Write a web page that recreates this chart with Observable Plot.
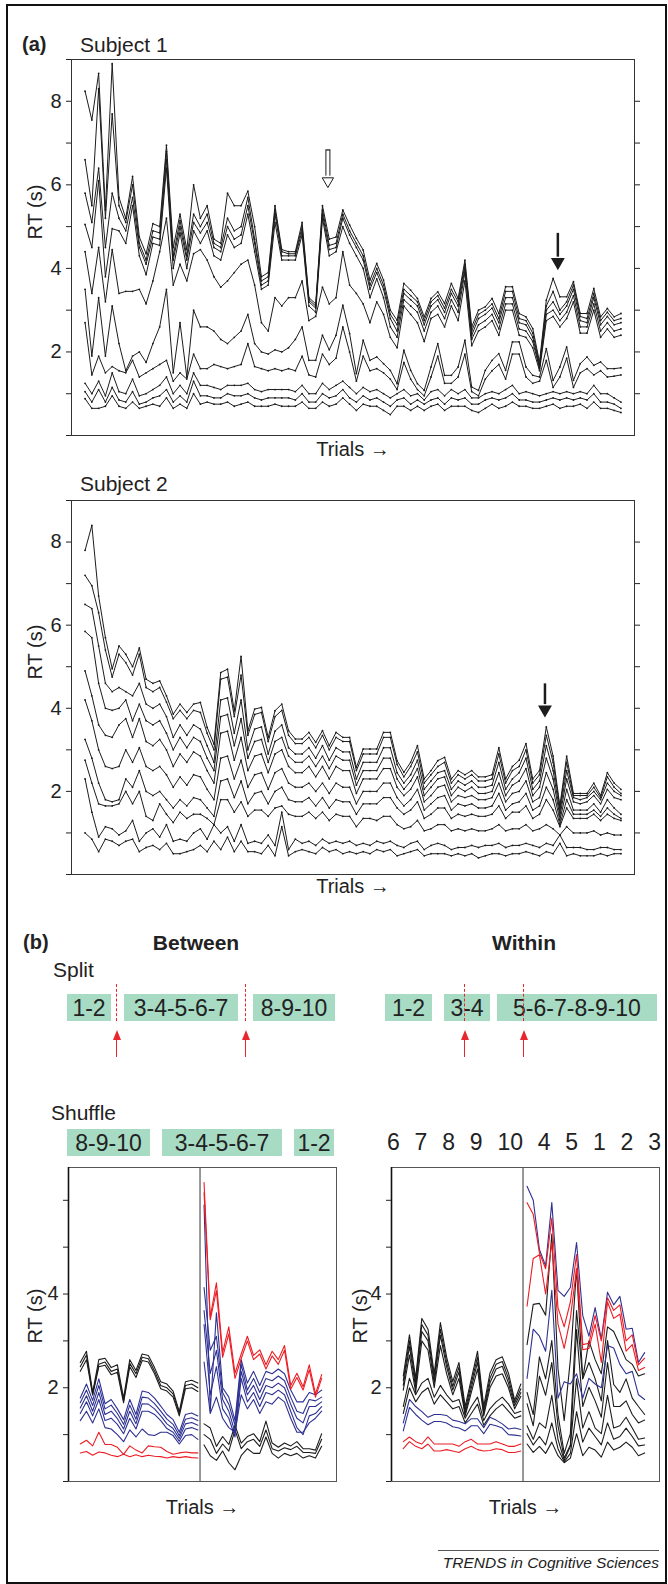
<!DOCTYPE html>
<html>
<head>
<meta charset="utf-8">
<script src="https://cdn.jsdelivr.net/npm/d3@7"></script>
<script src="https://cdn.jsdelivr.net/npm/@observablehq/plot@0.6"></script>
<style>
  body { margin: 0; background: #fff; }
  #page { position: relative; width: 668px; height: 1584px; overflow: hidden; background: #fff;
          font-family: "Liberation Sans", Arial, Helvetica, sans-serif; color: #222; }
  .abs { position: absolute; white-space: nowrap; }
  .box { position: absolute; background: #a7dbc4; height: 27px; line-height: 28px; text-align: center; font-size: 23px; color: #222; }
  .dash { position: absolute; width: 0; border-left: 1.5px dashed #e8262d; }
  .shaft { position: absolute; width: 0; border-left: 1.5px solid #e8262d; }
  .head { position: absolute; width: 0; height: 0; border-left: 4px solid transparent; border-right: 4px solid transparent; border-bottom: 10px solid #e8262d; }
  #border { position: absolute; left: 6px; top: 4px; width: 661px; height: 1580px; border: 2px solid #111; box-sizing: border-box; pointer-events: none; }
</style>
</head>
<body>
<div id="page"></div>
<script>
// ---------------- DATA ----------------
const trials = d3.range(80);

// Subject 1: ten RT curves (bottom to top), 80 trials each
const subject1Lines = [
  [0.88,0.65,0.65,0.7,0.95,0.7,0.65,0.8,0.65,0.7,0.75,0.7,0.9,0.65,0.75,0.65,1.0,0.75,0.8,0.75,0.75,0.8,0.7,0.75,0.8,0.7,0.7,0.7,0.75,0.7,0.7,0.7,0.8,0.65,0.65,0.8,0.7,0.75,0.9,0.75,0.6,0.75,0.7,0.7,0.6,0.5,0.7,0.7,0.6,0.7,0.6,0.7,0.75,0.6,0.7,0.7,0.7,0.6,0.55,0.65,0.75,0.65,0.7,0.8,0.7,0.7,0.65,0.65,0.7,0.75,0.65,0.7,0.7,0.75,0.65,0.8,0.65,0.65,0.6,0.55],
  [1.05,0.8,1.1,0.8,1.15,0.85,0.8,1.05,0.75,0.8,0.9,0.95,1.1,0.8,0.95,0.8,1.3,0.95,0.95,0.9,0.9,1.0,0.95,0.95,1.0,0.9,0.85,0.9,0.9,0.9,0.9,0.85,1.0,0.8,0.8,1.0,0.9,0.95,1.1,0.9,0.8,0.95,0.85,0.9,0.8,0.7,0.85,0.9,0.75,0.85,0.75,0.85,0.9,0.75,0.9,0.85,0.9,0.75,0.75,0.85,0.9,0.85,0.9,1.0,0.85,0.85,0.8,0.8,0.85,0.9,0.85,0.9,0.85,0.9,0.85,1.0,0.8,0.8,0.75,0.65],
  [1.25,1.0,1.3,0.95,1.5,1.05,1.0,1.35,0.95,1.0,1.1,1.2,1.4,1.0,1.2,1.0,1.5,1.2,1.2,1.15,1.1,1.2,1.2,1.2,1.25,1.1,1.05,1.1,1.1,1.1,1.1,1.05,1.2,1.0,1.0,1.25,1.1,1.2,1.3,1.15,1.0,1.15,1.05,1.1,1.0,0.9,1.0,1.1,0.95,1.0,0.85,1.05,1.1,0.95,1.1,1.0,1.1,0.9,0.9,1.0,1.05,1.0,1.1,1.2,1.0,1.05,1.0,0.95,1.0,1.05,1.0,1.05,1.0,1.05,1.0,1.2,1.0,1.0,0.9,0.8],
  [2.7,1.45,1.9,1.5,1.65,1.55,1.5,1.8,1.4,1.5,1.6,1.7,1.8,1.3,1.5,1.35,1.95,1.6,1.6,1.7,1.65,1.6,1.65,1.7,2.2,1.65,1.6,1.55,1.6,1.55,1.6,1.55,1.9,1.45,1.4,1.95,1.7,1.85,2.6,2.0,1.3,1.9,1.55,1.6,1.5,1.35,1.1,1.75,1.35,1.1,0.95,1.4,1.9,1.25,1.25,1.4,1.95,1.05,0.95,1.35,1.55,1.7,1.35,1.95,1.95,1.4,1.25,1.3,1.8,1.15,1.4,1.85,1.15,1.5,1.6,1.45,1.55,1.4,1.42,1.45],
  [3.5,1.9,3.3,1.9,3.1,2.2,1.55,1.9,2.0,1.75,2.2,2.6,3.5,1.5,2.7,1.4,3.0,2.6,2.6,2.5,2.3,2.2,2.35,2.5,2.9,2.2,2.0,1.95,2.05,2.0,2.1,2.3,2.6,1.8,1.8,2.4,2.05,2.4,3.12,2.44,1.48,2.28,1.8,1.88,1.72,1.56,1.24,2.04,1.56,1.24,1.08,1.64,2.2,1.44,1.44,1.64,2.28,1.16,1.08,1.56,1.8,1.96,1.56,2.24,2.24,1.64,1.44,1.4,2.08,1.32,1.64,2.12,1.32,1.72,1.88,1.68,1.76,1.6,1.6,1.62],
  [4.4,3.4,4.5,3.2,4.45,3.4,3.45,3.45,3.5,3.15,3.7,4.4,5.2,3.6,4.1,3.7,4.35,4.45,4.2,3.8,3.55,3.7,3.9,4.1,4.2,3.6,2.7,2.5,3.3,3.1,3.3,3.3,3.7,2.75,2.85,3.55,3.15,3.3,4.4,3.6,3.4,3.15,2.7,3.2,2.9,2.35,2.1,3.1,2.9,2.7,2.25,2.8,2.9,2.6,3.1,2.75,3.7,2.15,2.5,2.6,2.75,2.4,3.0,3.0,2.4,2.35,2.1,1.55,2.75,2.85,2.6,2.8,3.2,2.45,2.45,3.0,2.35,2.55,2.35,2.4],
  [5.05,4.5,6.1,3.8,4.95,4.9,4.6,5.5,4.3,3.85,4.6,4.55,6.4,4.0,4.85,4.0,4.9,4.6,4.9,4.3,4.2,4.8,4.5,4.6,5.3,4.4,3.5,3.6,5.1,4.2,4.2,4.2,4.8,3.1,2.95,5.2,4.3,4.4,5.0,4.6,4.3,4.0,3.3,3.75,3.3,2.6,2.35,3.25,3.1,2.95,2.5,2.95,3.1,2.8,3.25,2.95,3.9,2.3,2.65,2.75,2.9,2.55,3.15,3.15,2.55,2.5,2.25,1.6,2.9,3.0,2.75,2.95,3.35,2.6,2.6,3.15,2.5,2.7,2.5,2.55],
  [5.8,5.1,6.4,4.5,5.8,5.2,4.9,5.7,4.5,4.1,4.75,4.7,6.6,4.2,5.0,4.2,5.1,4.85,5.1,4.5,4.4,5.0,4.7,4.8,5.5,4.6,3.6,3.7,5.3,4.3,4.3,4.3,4.9,3.2,3.05,5.3,4.45,4.5,5.2,4.8,4.5,4.2,3.5,3.9,3.5,2.8,2.5,3.4,3.25,3.1,2.65,3.1,3.25,2.95,3.4,3.1,4.0,2.4,2.8,2.9,3.05,2.7,3.3,3.3,2.7,2.65,2.35,1.65,3.0,3.2,2.9,3.1,3.5,2.75,2.7,3.3,2.65,2.85,2.65,2.7],
  [6.6,5.5,8.3,5.2,7.7,5.5,5.1,6.0,4.6,4.2,4.9,4.85,6.8,4.3,5.15,4.3,5.3,5.0,5.3,4.6,4.5,5.2,4.9,5.0,5.7,4.7,3.7,3.8,5.4,4.4,4.35,4.35,5.0,3.25,3.1,5.4,4.55,4.6,5.3,4.9,4.6,4.3,3.6,4.0,3.6,2.9,2.65,3.5,3.35,3.2,2.75,3.2,3.35,3.05,3.5,3.2,4.1,2.5,2.9,3.0,3.15,2.8,3.45,3.45,2.8,2.75,2.45,1.7,3.1,3.45,3.0,3.2,3.6,2.85,2.8,3.4,2.75,2.95,2.75,2.8],
  [8.24,7.55,8.67,5.4,8.9,5.7,5.2,6.2,4.75,4.35,5.07,5.0,6.95,4.5,5.3,4.45,6.0,5.2,5.5,4.7,4.6,5.8,5.5,5.5,5.85,5.0,3.8,3.9,5.5,4.45,4.4,4.4,5.1,3.3,3.15,5.5,4.7,4.75,5.4,5.04,4.72,4.44,3.72,4.12,3.72,3.0,2.76,3.64,3.48,3.28,2.84,3.28,3.44,3.16,3.64,3.28,4.2,2.6,3.0,3.08,3.28,2.92,3.56,3.56,2.92,2.84,2.56,1.76,3.24,3.76,3.32,3.32,3.68,2.92,2.92,3.52,2.84,3.04,2.84,2.92]
];

// Subject 2: ten RT curves (bottom to top), 80 trials each
const subject2Lines = [
  [1.0,0.85,0.55,0.85,0.8,0.7,0.8,0.85,0.55,0.65,0.7,0.6,0.75,0.5,0.5,0.55,0.6,0.7,0.55,0.8,0.6,0.9,0.55,0.8,0.55,0.55,0.5,0.7,0.45,1.15,0.45,0.55,0.6,0.55,0.5,0.65,0.55,0.6,0.5,0.55,0.5,0.55,0.5,0.6,0.55,0.6,0.45,0.5,0.55,0.6,0.45,0.5,0.5,0.5,0.45,0.5,0.45,0.5,0.4,0.45,0.5,0.5,0.45,0.5,0.5,0.55,0.5,0.45,0.55,0.5,0.75,0.45,0.5,0.45,0.45,0.45,0.5,0.45,0.5,0.5],
  [2.3,1.5,0.9,1.15,1.1,0.95,1.05,1.3,0.8,1.0,1.1,0.9,1.2,0.8,0.85,0.8,1.0,1.1,0.85,1.2,1.0,1.15,0.8,1.2,0.75,0.8,0.75,0.95,0.7,1.5,0.6,0.85,0.75,0.8,0.7,0.85,0.75,0.8,0.75,0.8,0.7,0.75,0.7,0.8,0.75,0.8,0.7,0.65,0.75,0.8,0.6,0.7,0.75,0.7,0.6,0.65,0.65,0.7,0.65,0.7,0.7,0.75,0.65,0.7,0.7,0.75,0.7,0.65,0.75,0.7,0.95,0.65,0.65,0.65,0.6,0.6,0.65,0.65,0.6,0.6],
  [2.75,2.2,1.7,1.65,1.65,1.7,2.0,1.7,2.0,1.4,1.3,1.7,1.45,1.25,1.5,1.35,1.45,1.45,1.35,1.2,1.8,1.8,1.5,1.75,1.4,1.55,1.55,1.4,1.6,1.65,1.45,1.4,1.4,1.5,1.35,1.5,1.3,1.45,1.4,1.4,1.15,1.35,1.35,1.3,1.4,1.4,1.2,1.1,1.15,1.3,1.05,1.1,1.2,1.2,1.05,1.1,1.05,1.1,1.05,1.05,1.1,1.2,1.05,1.1,1.1,1.2,1.05,1.1,1.2,1.1,0.95,1.15,1.0,1.0,1.0,1.05,0.95,1.0,0.95,0.95],
  [3.25,2.8,2.2,1.8,1.75,1.8,2.3,2.1,2.5,2.0,1.9,2.0,1.8,1.6,1.8,1.65,1.85,1.8,1.6,1.4,2.25,2.3,1.85,2.25,1.7,1.95,2.0,1.7,2.0,2.1,1.8,1.75,1.75,1.85,1.65,1.85,1.6,1.8,1.75,1.75,1.45,1.7,1.7,1.7,1.85,1.85,1.6,1.45,1.55,1.75,1.35,1.45,1.6,1.6,1.35,1.45,1.4,1.45,1.4,1.4,1.45,1.65,1.35,1.5,1.5,1.65,1.35,1.45,1.8,1.55,1.15,1.6,1.35,1.35,1.35,1.45,1.3,1.45,1.35,1.3],
  [4.2,3.7,3.0,2.6,2.55,2.6,3.0,2.7,3.05,2.6,2.5,2.6,2.4,2.1,2.35,2.15,2.4,2.35,2.05,1.8,2.8,2.85,2.3,2.75,2.1,2.4,2.45,2.05,2.45,2.55,2.2,2.1,2.1,2.2,2.0,2.2,1.95,2.2,2.1,2.1,1.7,2.0,2.0,2.0,2.2,2.2,1.85,1.65,1.8,2.05,1.55,1.7,1.85,1.9,1.55,1.7,1.65,1.7,1.6,1.6,1.65,1.95,1.55,1.7,1.75,1.95,1.55,1.65,2.1,1.8,1.2,1.8,1.45,1.45,1.45,1.55,1.4,1.6,1.45,1.35],
  [4.9,4.3,3.6,3.35,3.3,3.6,3.75,3.3,3.75,3.2,3.1,3.25,3.0,2.6,2.9,2.7,2.95,2.85,2.5,2.2,3.4,3.45,2.75,3.3,2.5,2.85,2.9,2.45,2.9,3.0,2.6,2.45,2.45,2.6,2.35,2.6,2.3,2.6,2.5,2.5,1.95,2.3,2.3,2.3,2.55,2.55,2.1,1.9,2.05,2.35,1.75,1.9,2.1,2.15,1.75,1.9,1.85,1.9,1.8,1.8,1.85,2.2,1.75,1.95,2.0,2.25,1.75,1.85,2.45,2.05,1.3,2.05,1.55,1.55,1.55,1.7,1.5,1.8,1.6,1.45],
  [5.85,5.7,4.6,4.0,3.95,4.0,4.2,3.7,4.1,3.7,3.6,3.7,3.4,3.0,3.3,3.05,3.3,3.2,2.8,2.5,3.8,3.85,3.1,3.75,2.8,3.2,3.25,2.7,3.2,3.3,2.85,2.7,2.7,2.85,2.6,2.85,2.55,2.85,2.75,2.75,2.15,2.5,2.5,2.5,2.8,2.8,2.3,2.05,2.25,2.55,1.9,2.1,2.3,2.35,1.9,2.1,2.0,2.1,1.95,1.95,2.0,2.45,1.9,2.15,2.25,2.55,1.9,2.1,2.8,2.3,1.4,2.3,1.75,1.7,1.75,1.9,1.7,2.05,1.85,1.8],
  [6.5,6.4,5.5,4.6,4.4,4.5,4.4,4.3,4.6,4.1,4.0,4.1,3.8,3.3,3.6,3.35,3.6,3.5,3.1,2.7,4.2,4.25,3.4,4.2,3.0,3.5,3.55,2.9,3.45,3.6,3.05,2.9,2.9,3.05,2.8,3.1,2.75,3.05,2.95,2.95,2.3,2.7,2.7,2.7,3.05,3.05,2.45,2.2,2.4,2.75,2.05,2.25,2.45,2.5,2.05,2.25,2.15,2.25,2.1,2.1,2.15,2.7,2.05,2.3,2.45,2.8,2.05,2.25,3.1,2.5,1.5,2.5,1.85,1.8,1.85,2.0,1.8,2.2,2.0,1.9],
  [7.2,6.95,6.3,5.4,4.75,5.3,5.1,4.8,5.3,4.5,4.4,4.5,4.15,3.75,3.95,3.75,3.95,3.9,3.4,3.0,4.7,4.75,3.8,4.8,3.35,3.85,3.9,3.2,3.8,3.95,3.35,3.15,3.15,3.3,3.05,3.35,3.0,3.3,3.2,3.2,2.5,2.9,2.9,2.9,3.3,3.3,2.65,2.35,2.6,2.95,2.2,2.4,2.6,2.7,2.2,2.4,2.3,2.4,2.25,2.25,2.3,2.9,2.2,2.5,2.6,3.0,2.2,2.4,3.35,2.7,1.6,2.7,1.9,1.9,1.9,2.1,1.85,2.35,2.1,1.95],
  [7.8,8.4,6.7,5.7,4.95,5.5,5.3,5.0,5.45,4.7,4.6,4.66,4.3,3.86,4.1,3.9,4.1,4.14,3.54,3.14,4.86,4.94,3.94,5.25,3.46,3.98,4.02,3.3,3.94,4.1,3.46,3.26,3.26,3.42,3.18,3.46,3.1,3.42,3.3,3.3,2.58,3.02,3.02,3.02,3.42,3.42,2.74,2.46,2.7,3.1,2.3,2.5,2.74,2.82,2.3,2.5,2.4,2.5,2.35,2.35,2.4,3.05,2.3,2.6,2.75,3.15,2.3,2.5,3.55,2.85,1.65,2.85,1.95,1.95,1.95,2.2,1.9,2.45,2.2,2.05]
];

// Arrow annotations (trial position, RT where arrow starts, RT of the tip)
const subject1Arrows = [
  {trial: 35.8, from: 6.85, to: 5.92, open: true},
  {trial: 69.7, from: 4.85, to: 3.98, open: false}
];
const subject2Arrows = [
  {trial: 67.8, from: 4.6, to: 3.8, open: false}
];

// Panel (b) schematic labels
const splitBetween = ["1-2", "3-4-5-6-7", "8-9-10"];
const splitWithin = ["1-2", "3-4", "5-6-7-8-9-10"];
const shuffleBetween = ["8-9-10", "3-4-5-6-7", "1-2"];
const shuffleWithin = ["6", "7", "8", "9", "10", "4", "5", "1", "2", "3"];

// Panel (b) "Between": 20 trials before the split, 20 after
const betweenBeforeBlack = [
  [2.54,2.78,1.9,2.6,2.63,2.43,2.49,1.78,2.6,2.37,2.72,2.69,2.43,2.13,2.08,1.93,1.49,2.13,2.16,2.1],
  [2.45,2.7,1.87,2.5,2.55,2.35,2.4,1.72,2.52,2.3,2.65,2.62,2.36,2.05,2.0,1.87,1.45,2.05,2.08,2.0],
  [2.35,2.6,1.84,2.45,2.48,2.28,2.33,1.68,2.45,2.22,2.58,2.55,2.3,1.98,1.93,1.8,1.4,1.98,2.0,1.92]
];
const betweenBeforeBlue = [
  [1.78,2.08,1.73,2.19,1.66,1.75,1.55,1.32,1.75,1.43,1.93,1.9,1.78,1.61,1.43,1.32,1.05,1.43,1.46,1.4],
  [1.68,1.95,1.62,2.05,1.55,1.63,1.45,1.22,1.63,1.33,1.8,1.78,1.66,1.5,1.33,1.22,0.98,1.33,1.36,1.3],
  [1.57,1.83,1.5,1.9,1.43,1.5,1.34,1.12,1.5,1.23,1.66,1.65,1.55,1.4,1.23,1.13,0.92,1.23,1.26,1.2],
  [1.45,1.7,1.4,1.75,1.3,1.35,1.22,1.02,1.35,1.12,1.5,1.5,1.43,1.3,1.13,1.05,0.86,1.12,1.15,1.1],
  [1.3,1.5,1.25,1.55,1.15,1.12,1.0,0.85,1.1,0.95,1.12,1.0,0.98,1.05,1.05,0.98,0.8,0.98,1.0,0.9]
];
const betweenBeforeRed = [
  [0.8,0.88,0.76,1.05,0.79,0.79,0.73,0.58,0.76,0.67,0.61,0.76,0.74,0.73,0.64,0.58,0.61,0.63,0.61,0.61],
  [0.61,0.64,0.56,0.63,0.61,0.56,0.53,0.58,0.53,0.57,0.53,0.56,0.54,0.53,0.5,0.53,0.51,0.53,0.51,0.5]
];
const betweenAfterRed = [
  [6.38,3.51,4.24,2.75,3.3,2.31,2.72,3.1,2.69,2.81,2.49,2.78,2.6,2.9,2.05,2.31,2.02,2.49,1.87,2.28],
  [6.16,3.45,4.07,2.65,3.15,2.2,2.62,3.0,2.6,2.72,2.4,2.68,2.5,2.8,1.97,2.22,1.95,2.38,1.8,2.2]
];
const betweenAfterBlue = [
  [5.9,1.5,3.6,2.0,1.8,1.3,2.6,2.1,2.35,2.05,2.35,2.3,2.4,2.3,1.95,1.7,1.7,1.9,1.85,1.95],
  [4.14,2.8,3.1,1.9,1.65,1.2,2.5,1.95,2.2,1.9,2.2,2.15,2.25,2.15,1.8,1.5,1.45,1.75,1.72,1.8],
  [3.65,2.3,2.8,1.75,1.5,1.05,2.35,1.85,2.05,1.75,2.05,2.0,2.1,2.0,1.65,1.35,1.25,1.6,1.6,1.7],
  [3.35,1.85,2.45,1.55,1.35,0.95,2.2,1.7,1.9,1.6,1.9,1.85,1.95,1.85,1.5,1.15,1.0,1.4,1.45,1.6],
  [2.55,1.45,1.8,1.35,1.15,1.05,1.85,1.55,1.75,1.45,1.7,1.65,1.8,1.7,1.35,1.05,1.05,1.25,1.35,1.5]
];
const betweenAfterBlack = [
  [1.23,1.14,0.75,0.96,0.79,1.2,0.82,0.96,1.02,0.85,1.29,0.82,0.73,0.82,0.76,0.85,0.7,0.7,0.67,1.02],
  [1.0,0.9,0.6,0.8,0.65,1.1,0.7,0.85,0.9,0.75,1.1,0.7,0.65,0.72,0.68,0.75,0.62,0.62,0.6,0.9],
  [0.78,0.55,0.45,0.65,0.4,0.25,0.55,0.7,0.6,0.6,0.95,0.6,0.5,0.6,0.55,0.6,0.5,0.55,0.5,0.75]
];

// Panel (b) "Within"
const withinBeforeBlack = [
  [2.25,3.13,2.2,3.48,3.25,2.3,3.39,2.66,2.13,2.54,1.6,2.19,2.78,1.6,2.31,2.6,2.66,2.31,1.73,2.08],
  [2.15,3.0,2.1,3.35,3.12,2.2,3.25,2.55,2.03,2.44,1.52,2.1,2.66,1.52,2.2,2.5,2.56,2.2,1.68,1.98],
  [2.05,2.88,2.0,3.2,3.0,2.1,3.12,2.45,1.95,2.34,1.45,2.0,2.55,1.45,2.1,2.4,2.46,2.1,1.62,1.9],
  [1.95,2.7,1.9,3.0,2.8,2.0,2.9,2.3,1.85,2.2,1.4,1.9,2.4,1.4,2.0,2.25,2.3,2.0,1.55,1.82],
  [1.6,2.2,1.85,2.1,2.2,1.8,2.05,1.85,1.7,1.75,1.35,1.6,1.8,1.3,1.55,1.7,1.8,1.65,1.45,1.5],
  [1.45,2.0,1.7,1.9,2.0,1.65,1.85,1.7,1.55,1.6,1.25,1.45,1.65,1.2,1.4,1.55,1.65,1.5,1.35,1.4]
];
const withinBeforeBlue = [
  [1.25,1.75,1.6,1.49,1.37,1.43,1.43,1.41,1.31,1.28,1.23,1.34,1.34,1.15,1.37,1.31,1.23,1.12,1.14,1.11],
  [1.08,1.58,1.43,1.31,1.21,1.28,1.28,1.25,1.17,1.14,1.08,1.19,1.19,1.02,1.22,1.19,1.14,1.0,0.99,0.97]
];
const withinBeforeRed = [
  [0.85,0.95,0.85,0.8,0.95,0.8,0.8,0.8,0.8,0.75,0.85,0.9,0.8,0.8,0.8,0.85,0.8,0.75,0.75,0.8],
  [0.7,0.85,0.75,0.7,0.8,0.65,0.65,0.68,0.65,0.62,0.7,0.75,0.68,0.65,0.66,0.7,0.68,0.62,0.62,0.65]
];
const withinAfterBlue = [
  [6.3,6.0,4.95,4.6,5.95,4.08,3.95,4.14,5.1,3.54,3.1,3.71,3.04,4.04,3.77,3.95,3.25,3.27,2.54,2.75],
  [2.2,3.25,3.1,2.78,4.08,1.78,2.13,2.08,2.3,1.78,2.2,2.08,2.0,2.9,2.85,2.5,2.3,2.35,1.85,1.75]
];
const withinAfterRed = [
  [5.95,5.7,4.88,4.54,5.62,3.71,3.3,3.83,4.84,2.92,2.95,3.54,3.0,3.92,3.65,3.77,3.0,3.13,2.49,2.63],
  [3.74,4.76,4.84,4.0,5.1,3.36,2.84,3.48,4.54,2.81,2.84,3.36,2.54,3.83,3.48,3.57,2.78,2.92,2.37,2.43]
];
const withinAfterBlack = [
  [2.92,3.78,3.8,3.55,5.28,2.4,1.3,2.6,4.54,2.2,3.0,2.6,2.3,3.3,3.2,2.9,2.6,2.5,2.25,2.3],
  [1.9,1.43,2.66,2.19,3.01,1.43,0.6,1.02,3.65,2.19,2.54,2.19,1.72,3.01,2.07,1.9,2.19,1.78,1.6,1.43],
  [1.66,1.19,2.25,1.84,2.54,1.19,0.5,0.78,3.24,1.6,2.01,1.72,1.37,2.54,1.6,1.6,1.72,1.43,1.25,1.31],
  [1.19,0.9,1.25,1.14,1.84,0.9,0.45,0.75,2.19,1.14,1.49,1.14,1.02,1.84,1.14,1.19,1.37,1.14,0.9,0.93],
  [1.02,0.78,0.96,0.78,1.25,0.7,0.42,0.6,1.49,0.84,1.14,0.96,0.78,1.25,0.9,0.96,1.14,0.96,0.76,0.78],
  [0.8,0.62,0.75,0.6,0.84,0.55,0.4,0.5,1.02,0.55,0.73,0.67,0.52,0.84,0.67,0.73,0.84,0.73,0.55,0.61]
];

// ---------------- STYLE / LAYOUT ----------------
const FONT = '"Liberation Sans", Arial, Helvetica, sans-serif';
const INK = "#1c1c1c", BLUE = "#2e3192", RED = "#ec1c24";
const page = document.getElementById("page");

function place(el, left, top) {
  const d = document.createElement("div");
  d.className = "abs";
  d.style.left = left + "px"; d.style.top = top + "px";
  d.appendChild(el);
  page.appendChild(d);
  return d;
}
function label(text, x, y, {size = 20, weight = "normal", style = "normal", anchor = "start"} = {}) {
  const d = document.createElement("div");
  d.className = "abs";
  d.textContent = text;
  d.style.fontSize = size + "px"; d.style.fontWeight = weight; d.style.fontStyle = style;
  d.style.left = x + "px"; d.style.top = y + "px";
  d.style.lineHeight = "1";
  const tx = anchor === "middle" ? "-50%" : anchor === "end" ? "-100%" : "0";
  d.style.transform = `translate(${tx}, -50%)`;
  page.appendChild(d);
  return d;
}

// ---------------- PANEL (a) ----------------
function subjectPlot(lines, arrows, {height, marginTop, marginBottom, labelDy}) {
  const data = lines.flatMap((vals, k) => vals.map((v, i) => ({trial: trials[i], rt: v, line: k})));
  const headUnits = 0.3;
  const open = arrows.filter(d => d.open), filled = arrows.filter(d => !d.open);
  return Plot.plot({
    width: 668, height, marginLeft: 71, marginRight: 34, marginTop, marginBottom,
    style: {background: "transparent", fontFamily: FONT, fontSize: "20px", color: "#222"},
    x: {domain: [-2, 81], axis: null},
    y: {domain: [0, 9], axis: null},
    marks: [
      Plot.line(data, {x: "trial", y: "rt", z: "line", stroke: INK, strokeWidth: 1}),
      Plot.dot(data, {x: "trial", y: "rt", r: 0.9, fill: INK, stroke: null}),
      Plot.frame({stroke: "#333", strokeWidth: 1}),
      Plot.axisY({ticks: d3.range(0, 10), tickSize: 5, tickPadding: 5, fontSize: 20,
                  tickFormat: d => (d % 2 === 0 && d > 0) ? String(d) : "", label: null}),
      Plot.axisY({anchor: "right", ticks: d3.range(1, 9), tickSize: 5, tickFormat: () => "", label: null}),
      // open arrow
      Plot.link(open, {x1: "trial", x2: "trial", y1: "from", y2: d => d.to + headUnits, stroke: INK, strokeWidth: 5, strokeLinecap: "butt"}),
      Plot.dot(open, {x: "trial", y: d => d.to + 0.17, symbol: "triangle", rotate: 180, r: 4.2, fill: "white", stroke: INK, strokeWidth: 1}),
      Plot.link(open, {x1: "trial", x2: "trial", y1: d => d.from - 0.03, y2: d => d.to + headUnits - 0.02, stroke: "white", strokeWidth: 3, strokeLinecap: "butt"}),
      // filled arrows
      Plot.link(filled, {x1: "trial", x2: "trial", y1: "from", y2: d => d.to + headUnits, stroke: INK, strokeWidth: 2.5}),
      Plot.dot(filled, {x: "trial", y: d => d.to + 0.17, symbol: "triangle", rotate: 180, r: 4.2, fill: INK, stroke: INK}),
      Plot.text(["RT (s)"], {frameAnchor: "left", dx: -36, dy: -8, rotate: -90, fontSize: 20}),
      Plot.text(["Trials →"], {frameAnchor: "bottom", dy: labelDy, fontSize: 20})
    ]
  });
}

label("(a)", 22, 44, {weight: "bold", size: 20});
label("Subject 1", 80, 44, {size: 21});
place(subjectPlot(subject1Lines, subject1Arrows, {height: 470, marginTop: 59, marginBottom: 35, labelDy: 20}), 0, 0);

label("Subject 2", 80, 483, {size: 21});
place(subjectPlot(subject2Lines, subject2Arrows, {height: 440, marginTop: 30, marginBottom: 36, labelDy: 18}), 0, 470);

// ---------------- PANEL (b) schematic ----------------
label("(b)", 23, 942, {weight: "bold", size: 20});
label("Between", 196, 942, {weight: "bold", size: 21, anchor: "middle"});
label("Within", 524, 942, {weight: "bold", size: 21, anchor: "middle"});
label("Split", 53, 969, {size: 21});
label("Shuffle", 51, 1112, {size: 21});

function boxes(labels, spans, top) {
  labels.forEach((t, i) => {
    const b = document.createElement("div");
    b.className = "box";
    b.textContent = t;
    b.style.left = spans[i][0] + "px";
    b.style.width = (spans[i][1] - spans[i][0]) + "px";
    b.style.top = top + "px";
    page.appendChild(b);
  });
}
boxes(splitBetween, [[67, 111], [124, 238], [253, 335]], 994);
boxes(splitWithin, [[385, 432], [444, 490], [497, 657]], 994);
boxes(shuffleBetween, [[67, 150], [162, 282], [294, 334]], 1129);

// split markers: dashed cut line + arrow pointing up to it
[117, 246, 465, 524].forEach(x => {
  const d = document.createElement("div");
  d.className = "dash"; d.style.left = (x - 0.75) + "px"; d.style.top = "984px"; d.style.height = "37px";
  page.appendChild(d);
  const s = document.createElement("div");
  s.className = "shaft"; s.style.left = (x - 0.75) + "px"; s.style.top = "1038px"; s.style.height = "19px";
  page.appendChild(s);
  const h = document.createElement("div");
  h.className = "head"; h.style.left = (x - 4) + "px"; h.style.top = "1030px";
  page.appendChild(h);
});

// shuffled order for "within"
(function () {
  const row = document.createElement("div");
  row.className = "abs";
  row.style.left = "387px"; row.style.top = "1142px"; row.style.transform = "translateY(-50%)";
  row.style.fontSize = "23px"; row.style.lineHeight = "1"; row.style.display = "flex"; row.style.gap = "14.8px";
  shuffleWithin.forEach(t => { const s = document.createElement("span"); s.textContent = t; row.appendChild(s); });
  page.appendChild(row);
})();

// ---------------- PANEL (b) plots ----------------
function splitPlot(groups, {width, marginLeft, rtDx}) {
  const data = groups.flatMap((g, k) => g.lines.flatMap((vals, j) =>
    vals.map((v, i) => ({t: g.half * 20 + i, rt: v, id: k + "-" + j, color: g.color}))));
  return Plot.plot({
    width, height: 400, marginLeft, marginRight: 9, marginTop: 32, marginBottom: 54,
    style: {background: "transparent", fontFamily: FONT, fontSize: "20px", color: "#222"},
    x: {domain: [-1.9, 41.4], axis: null},
    y: {domain: [0, 6.7], axis: null},
    color: {type: "identity"},
    marks: [
      Plot.frame({stroke: "#555", strokeWidth: 1}),
      Plot.ruleX([19.35], {stroke: "#555", strokeWidth: 1.2}),
      Plot.ruleX([-1.9], {stroke: "#111", strokeWidth: 1.6}),
      Plot.line(data, {x: "t", y: "rt", z: "id", stroke: "color", strokeWidth: 1.1}),
      Plot.axisY({ticks: [0, 1, 2, 3, 4, 5, 6], tickSize: 5, tickPadding: 5, fontSize: 20,
                  tickFormat: d => (d === 2 || d === 4) ? String(d) : "", label: null}),
      Plot.text(["RT (s)"], {frameAnchor: "left", dx: rtDx, dy: 19, rotate: -90, fontSize: 20}),
      Plot.text(["Trials →"], {frameAnchor: "bottom", dy: 32, fontSize: 20})
    ]
  });
}

place(splitPlot([
  {lines: betweenBeforeBlack, color: INK, half: 0},
  {lines: betweenBeforeBlue, color: BLUE, half: 0},
  {lines: betweenBeforeRed, color: RED, half: 0},
  {lines: betweenAfterBlack, color: INK, half: 1},
  {lines: betweenAfterBlue, color: BLUE, half: 1},
  {lines: betweenAfterRed, color: RED, half: 1}
], {width: 345, marginLeft: 68, rtDx: -33}), 0, 1135);

place(splitPlot([
  {lines: withinBeforeBlack, color: INK, half: 0},
  {lines: withinBeforeBlue, color: BLUE, half: 0},
  {lines: withinBeforeRed, color: RED, half: 0},
  {lines: withinAfterBlack, color: INK, half: 1},
  {lines: withinAfterBlue, color: BLUE, half: 1},
  {lines: withinAfterRed, color: RED, half: 1}
], {width: 338, marginLeft: 61, rtDx: -31}), 330, 1135);

// ---------------- credit + border ----------------
(function () {
  const line = document.createElement("div");
  line.className = "abs";
  line.style.left = "438px"; line.style.top = "1550px"; line.style.width = "221px"; line.style.borderTop = "1px solid #555";
  page.appendChild(line);
})();
label("TRENDS in Cognitive Sciences", 659, 1563, {size: 15.5, style: "italic", anchor: "end"});

const border = document.createElement("div");
border.id = "border";
page.appendChild(border);
</script>
</body>
</html>
